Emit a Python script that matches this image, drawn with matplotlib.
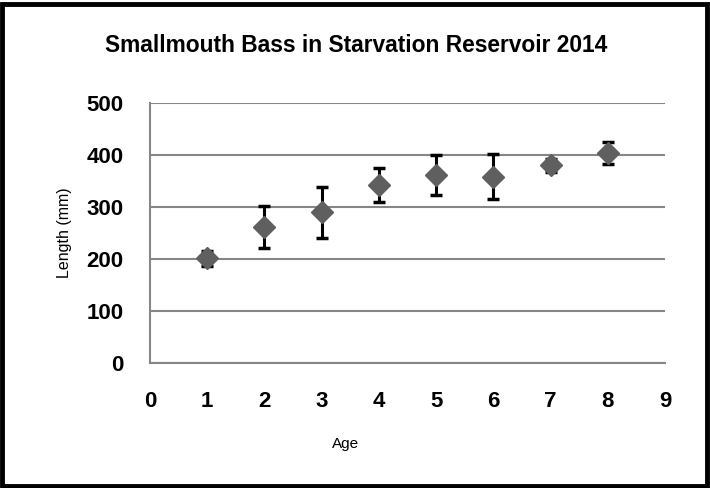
import matplotlib
matplotlib.use("Agg")
import matplotlib.pyplot as plt
from matplotlib.patches import Rectangle

ages = [1, 2, 3, 4, 5, 6, 7, 8]
mean_length = [201, 262, 290, 342, 362, 358, 380, 404]
err_length = [15, 40, 49, 33, 38, 43, 12, 21]
x_ticks = [0, 1, 2, 3, 4, 5, 6, 7, 8, 9]
y_ticks = [0, 100, 200, 300, 400, 500]

plt.rcParams['font.family'] = ['Liberation Sans', 'DejaVu Sans']

W, H = 710, 488
fig = plt.figure(figsize=(W / 100, H / 100), dpi=100)
ax = fig.add_axes([150 / W, 1 - 363 / H, (665 - 150) / W, (363 - 103) / H])

ax.set_xlim(0, 9)
ax.set_ylim(0, 500)
ax.set_xticks(x_ticks)
ax.set_yticks(y_ticks)
ax.yaxis.grid(True, color='#868686', linewidth=1.5)
ax.set_axisbelow(True)
for s in ['top', 'right']:
    ax.spines[s].set_visible(False)
for s in ['left', 'bottom']:
    ax.spines[s].set_color('#868686')
    ax.spines[s].set_linewidth(1.5)
ax.tick_params(length=0, labelsize=16)
ax.tick_params(axis='x', pad=20)
ax.tick_params(axis='y', pad=19)
for lab in ax.get_xticklabels() + ax.get_yticklabels():
    lab.set_fontweight('bold')

ax.errorbar(ages, mean_length, yerr=err_length, fmt='none', ecolor='black',
            elinewidth=2.2, capsize=4.5, capthick=2.5, zorder=3)
ax.plot(ages, mean_length, linestyle='none', marker='D', markersize=11,
        color='#5f5f5f', zorder=4, clip_on=False)

title = fig.text(356 / W, 1 - 46 / H, 'Smallmouth Bass in Starvation Reservoir 2014',
                 ha='center', va='center', fontsize=16, fontweight='bold')
fig.canvas.draw()
tw = title.get_window_extent().width
title.set_fontsize(16 * 503 / tw)

fig.text(346 / W, 1 - 444 / H, 'Age', ha='center', va='center', fontsize=11)
fig.text(65 / W, 1 - 233 / H, 'Length (mm)', ha='center', va='center',
         fontsize=11.5, rotation=90)

fig.patches.append(Rectangle((2 / W, 2 / H), (W - 5) / W, (H - 6) / H,
                             transform=fig.transFigure, fill=False,
                             edgecolor='black', linewidth=3.5))

fig.savefig('out.png', dpi=100)
